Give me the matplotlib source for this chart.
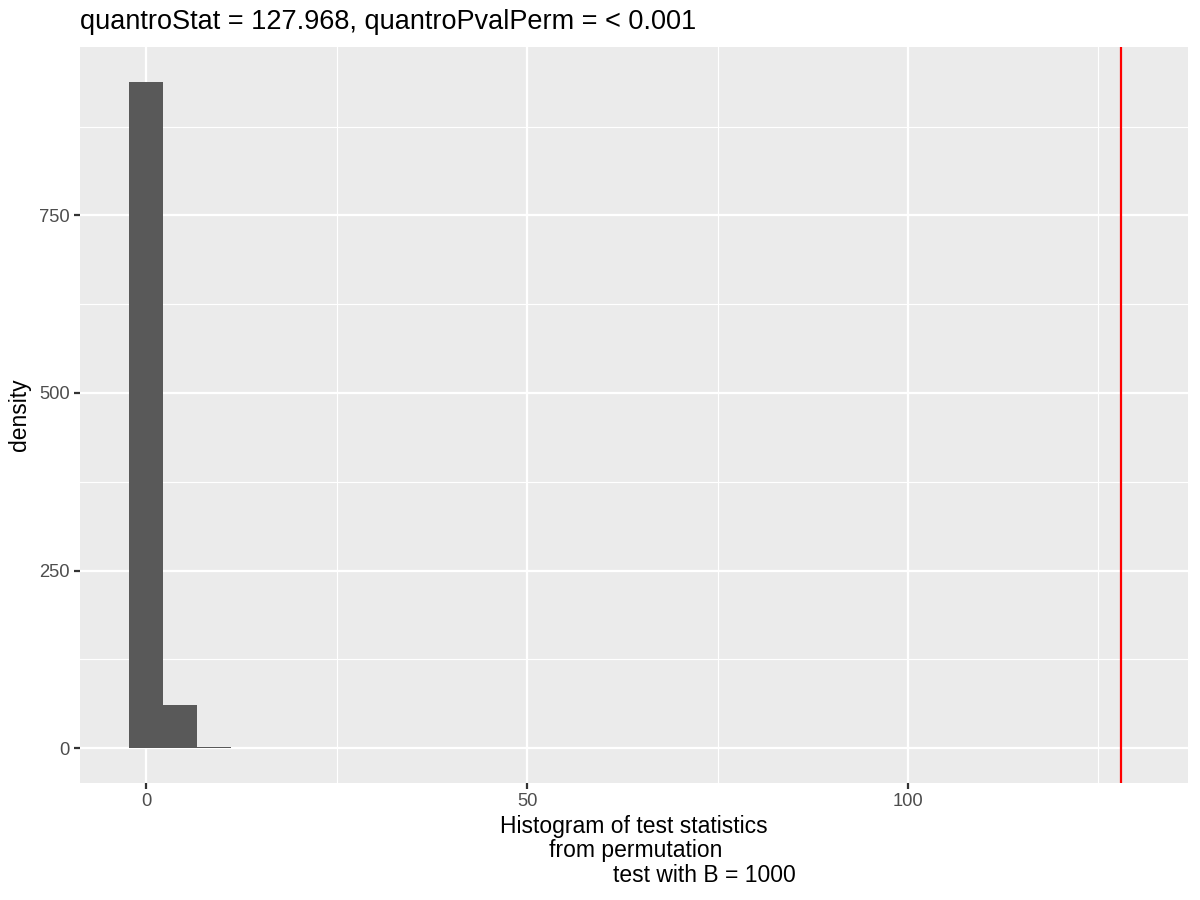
import matplotlib
matplotlib.use("Agg")
import matplotlib.pyplot as plt
from matplotlib.ticker import MultipleLocator

plt.rcParams['font.family'] = ['Liberation Sans', 'DejaVu Sans']

# histogram bins
bin_centers = [0.0, 4.45, 8.9]
bin_width = 4.45
density = [938, 61, 2]

quantro_stat = 127.968
title = "quantroStat = 127.968, quantroPvalPerm = < 0.001"
xlabel_lines = ["Histogram of test statistics", "from permutation", "test with B = 1000"]
x_ticks = [0, 50, 100]
y_ticks = [0, 250, 500, 750]

fig = plt.figure(figsize=(8, 6), dpi=150)
W, H = 1200, 900
ax = fig.add_axes([80 / W, 1 - 783 / H, (1188 - 80) / W, (783 - 47) / H])

ax.set_facecolor('#EBEBEB')
for s in ax.spines.values():
    s.set_visible(False)

ax.set_xlim(-8.7, 136.76)
ax.set_ylim(-49, 987)

ax.xaxis.set_major_locator(MultipleLocator(50))
ax.xaxis.set_minor_locator(MultipleLocator(25))
ax.yaxis.set_major_locator(MultipleLocator(250))
ax.yaxis.set_minor_locator(MultipleLocator(125))
ax.set_xticks(x_ticks)
ax.set_yticks(y_ticks)

ax.grid(which='major', color='white', linewidth=1.07)
ax.grid(which='minor', color='white', linewidth=0.53)
ax.set_axisbelow(True)

ax.tick_params(which='major', length=2.75, width=1.07, color='#333333',
               labelcolor='#4D4D4D', labelsize=8.8, pad=2.2)
ax.tick_params(which='minor', length=0)

ax.bar(bin_centers, density, width=bin_width, color='#595959', linewidth=0)
ax.axvline(quantro_stat, color='red', linewidth=1.07)

ax.set_ylabel("density", fontsize=11, labelpad=4)

fig.text(80 / W, 1 - 22 / H, title, fontsize=13.0, ha='left', va='center')

# odd indentation of the x label lines (from the original string)
label_x = [500, 549, 613]
label_y = [826, 851, 876]
for txt, px, py in zip(xlabel_lines, label_x, label_y):
    fig.text(px / W, 1 - py / H, txt, fontsize=11, ha='left', va='center')

fig.savefig("out.png", dpi=150)
